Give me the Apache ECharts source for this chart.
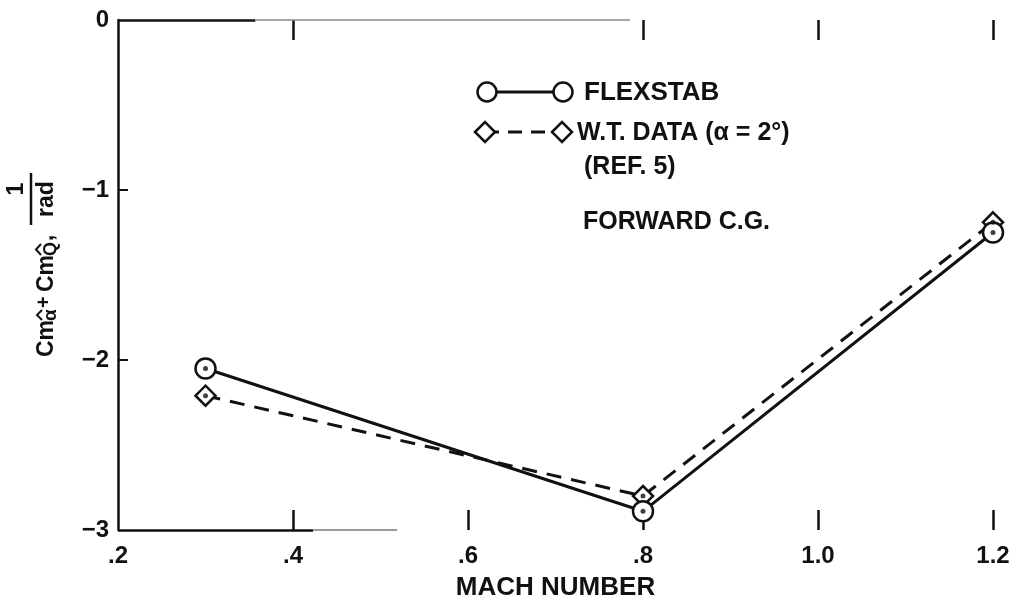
<!DOCTYPE html>
<html>
<head>
<meta charset="utf-8">
<script src="https://cdn.jsdelivr.net/npm/echarts@6/dist/echarts.min.js"></script>
<style>
  html, body { margin: 0; padding: 0; background: #ffffff; }
  #chart { width: 1019px; height: 602px; }
</style>
</head>
<body>
<div id="chart"></div>
<script>
// ---- data ----
const machNumbers = [0.3, 0.8, 1.2];
const flexstabValues = [-2.05, -2.89, -1.25];
const wtDataValues = [-2.21, -2.80, -1.19];
const xTickValues = [0.2, 0.4, 0.6, 0.8, 1.0, 1.2];
const xTickLabels = ['.2', '.4', '.6', '.8', '1.0', '1.2'];
const yTickValues = [0, -1, -2, -3];
const yTickLabels = ['0', '\u22121', '\u22122', '\u22123'];
const seriesNames = ['FLEXSTAB', 'W.T. DATA (\u03b1 = 2\u00b0)'];
const legendNote = '(REF. 5)';
const cgNote = 'FORWARD C.G.';
const xAxisTitle = 'MACH NUMBER';

// ---- chart ----
const INK = '#111111';
const FONT = '"Liberation Sans", Arial, Helvetica, sans-serif';
const pair = (xs, ys) => xs.map((x, i) => [x, ys[i]]);
const lookup = (vals, labels) => v => {
  const i = vals.findIndex(t => Math.abs(t - v) < 1e-6);
  return i >= 0 ? labels[i] : '';
};

const chart = echarts.init(document.getElementById('chart'), null, { renderer: 'canvas' });

const txt = (text, x, y, size, extra) => ({
  type: 'text', x: x, y: y, silent: true,
  style: Object.assign({ text: text, font: 'bold ' + size + 'px ' + FONT, fill: INK,
    align: 'left', verticalAlign: 'middle' }, extra || {})
});
const hat = (x0, x1, yb) => ({
  type: 'polyline', silent: true,
  shape: { points: [[x0, yb], [(x0 + x1) / 2, yb - 5], [x1, yb]] },
  style: { stroke: INK, lineWidth: 2, fill: null }
});

const option = {
  backgroundColor: '#ffffff',
  animation: false,
  grid: { left: 118, right: 26, top: 20, bottom: 72, containLabel: false, outerBoundsMode: 'none' },
  xAxis: [
    {
      type: 'value', position: 'bottom', min: 0.2, max: 1.2, interval: 0.2,
      axisLine: { show: false, onZero: false },
      splitLine: { show: false },
      axisTick: { show: true, inside: true, length: 20, customValues: [0.4, 0.6, 0.8, 1.0, 1.2],
        lineStyle: { color: INK, width: 2.5 } },
      axisLabel: { show: true, customValues: xTickValues, formatter: lookup(xTickValues, xTickLabels),
        color: INK, fontFamily: FONT, fontWeight: 'bold', fontSize: 24, margin: 14 },
      name: xAxisTitle, nameLocation: 'middle', nameGap: 45,
      nameTextStyle: { color: INK, fontFamily: FONT, fontWeight: 'bold', fontSize: 26 }
    },
    {
      type: 'value', position: 'top', min: 0.2, max: 1.2, interval: 0.2,
      axisLine: { show: false, onZero: false },
      splitLine: { show: false },
      axisTick: { show: true, inside: true, length: 20, customValues: [0.4, 0.8, 1.0, 1.2],
        lineStyle: { color: INK, width: 2.5 } },
      axisLabel: { show: false }
    }
  ],
  yAxis: {
    type: 'value', min: -3, max: 0, interval: 1,
    axisLine: { show: true, onZero: false, lineStyle: { color: INK, width: 2.5 } },
    splitLine: { show: false },
    axisTick: { show: true, inside: true, length: 10, customValues: [-1, -2],
      lineStyle: { color: INK, width: 2 } },
    axisLabel: { customValues: yTickValues, formatter: lookup(yTickValues, yTickLabels),
      color: INK, fontFamily: FONT, fontWeight: 'bold', fontSize: 24, margin: 9 }
  },
  series: [
    {
      name: seriesNames[1], type: 'line', xAxisIndex: 0,
      data: pair(machNumbers, wtDataValues),
      symbol: 'diamond', symbolSize: 20, showAllSymbol: true,
      lineStyle: { color: INK, width: 3, type: [15, 10] },
      itemStyle: { color: '#ffffff', borderColor: INK, borderWidth: 2.5 },
      z: 2,
      markLine: {
        silent: true, symbol: 'none', label: { show: false }, animation: false,
        data: [
          [{ coord: [0.2, -3], lineStyle: { color: INK, width: 2.5, type: 'solid' } }, { coord: [0.423, -3] }],
          [{ coord: [0.423, -3], lineStyle: { color: '#9a9a9a', width: 2, type: 'solid' } }, { coord: [0.519, -3] }],
          [{ coord: [0.2, 0], lineStyle: { color: INK, width: 2.5, type: 'solid' } }, { coord: [0.357, 0] }],
          [{ coord: [0.357, 0], lineStyle: { color: '#8a8a8a', width: 1.5, type: 'solid' } }, { coord: [0.785, 0] }]
        ]
      }
    },
    {
      name: seriesNames[0], type: 'line', xAxisIndex: 0,
      data: pair(machNumbers, flexstabValues),
      symbol: 'circle', symbolSize: 20, showAllSymbol: true,
      lineStyle: { color: INK, width: 3, type: 'solid' },
      itemStyle: { color: '#ffffff', borderColor: INK, borderWidth: 2.5 },
      z: 3
    },
    {
      name: 'dots', type: 'scatter', xAxisIndex: 0,
      data: pair(machNumbers, wtDataValues).concat(pair(machNumbers, flexstabValues)),
      symbol: 'circle', symbolSize: 5,
      itemStyle: { color: INK }, z: 4, silent: true
    }
  ],
  graphic: [
    // y-axis title (rotated, reads bottom to top)
    {
      type: 'group', x: 58, y: 357, rotation: Math.PI / 2, silent: true,
      children: [
        txt('Cm', 0, 0, 23, { verticalAlign: 'bottom' }),
        txt('\u03b1', 36, 2, 19, { verticalAlign: 'bottom' }),
        hat(37, 47, -16),
        txt('+', 49, -4, 20, { verticalAlign: 'bottom' }),
        txt('Cm', 65, 0, 23, { verticalAlign: 'bottom' }),
        txt('Q', 101, 2, 18, { verticalAlign: 'bottom' }),
        hat(102, 113, -17),
        txt(',', 116, 0, 23, { verticalAlign: 'bottom' }),
        txt('1', 168, -30, 23, { verticalAlign: 'bottom', align: 'center' }),
        { type: 'line', silent: true, shape: { x1: 132, y1: -27, x2: 184, y2: -27 },
          style: { stroke: INK, lineWidth: 2.5 } },
        txt('rad', 158, 0, 23, { verticalAlign: 'bottom', align: 'center' })
      ]
    },
    // legend: FLEXSTAB
    { type: 'line', silent: true, shape: { x1: 487, y1: 92, x2: 563, y2: 92 }, style: { stroke: INK, lineWidth: 3 } },
    { type: 'circle', silent: true, shape: { cx: 487, cy: 92, r: 9.5 }, style: { fill: '#fff', stroke: INK, lineWidth: 2.5 } },
    { type: 'circle', silent: true, shape: { cx: 563, cy: 92, r: 9.5 }, style: { fill: '#fff', stroke: INK, lineWidth: 2.5 } },
    txt(seriesNames[0], 584, 93, 26),
    // legend: W.T. DATA
    { type: 'line', silent: true, shape: { x1: 485, y1: 132, x2: 562, y2: 132 }, style: { stroke: INK, lineWidth: 3, lineDash: [14, 9] } },
    { type: 'polygon', silent: true, shape: { points: [[475, 132], [485, 122], [495, 132], [485, 142]] }, style: { fill: '#fff', stroke: INK, lineWidth: 2.5 } },
    { type: 'polygon', silent: true, shape: { points: [[552, 132], [562, 122], [572, 132], [562, 142]] }, style: { fill: '#fff', stroke: INK, lineWidth: 2.5 } },
    txt(seriesNames[1], 577, 133, 25),
    txt(legendNote, 584, 167, 25),
    txt(cgNote, 583, 222, 25)
  ]
};

chart.setOption(option);
</script>
</body>
</html>
